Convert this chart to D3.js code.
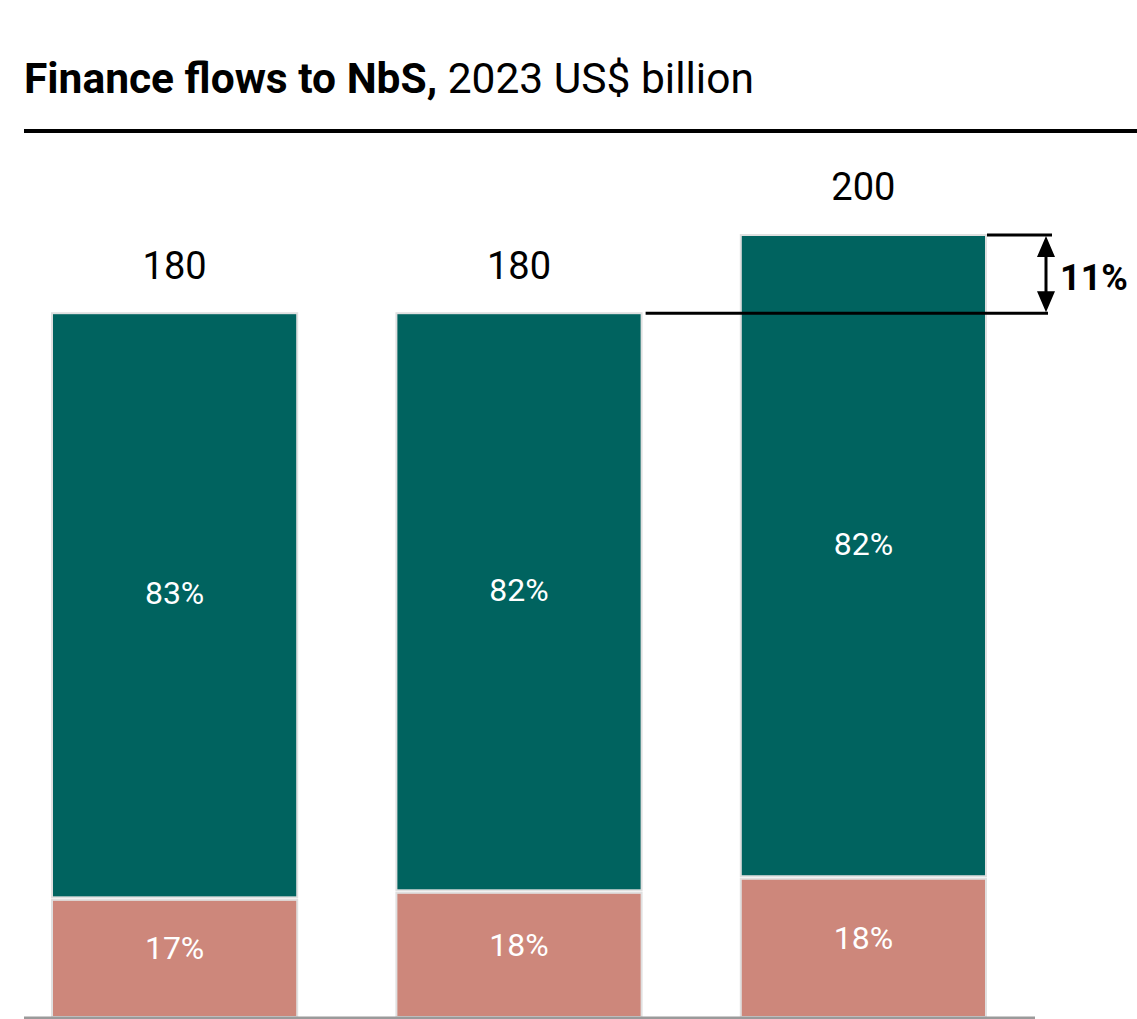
<!DOCTYPE html>
<html>
<head>
<meta charset="utf-8">
<script src="https://cdn.jsdelivr.net/npm/d3@7"></script>
<style>
  html, body { margin: 0; padding: 0; background: #fff; }
  svg { display: block; font-family: Roboto, "Noto Sans", sans-serif; }
</style>
</head>
<body>
<svg id="chart" width="1137" height="1019"></svg>
<script>
const CATEGORIES = ['A', 'B', 'C'];
const TOTALS = [180, 180, 200];
const TOTAL_LABELS = ['180', '180', '200'];
const SHARE_BOTTOM = [17, 18, 18];
const SHARE_TOP = [83, 82, 82];
const GROWTH_LABEL = '11%';

const SVG = d3.select('#chart');
const BASE = 1017;

const X = d3.scaleBand().domain(CATEGORIES).range([52, 986]).paddingInner(0.288).paddingOuter(0);
const Y = d3.scaleLinear().domain([0, 200]).range([BASE, 235]);

// title
const title = SVG.append('text').attr('x', 24).attr('y', 93).style('font-size', '42.5px');
title.append('tspan').style('font-weight', 700).text('Finance flows to NbS,');
title.append('tspan').style('font-weight', 400).text(' 2023 US$ billion');

SVG.append('line')
  .attr('x1', 24).attr('x2', 1137).attr('y1', 131).attr('y2', 131)
  .style('stroke', '#000').style('stroke-width', 4);

const rows = CATEGORIES.map((c, i) => ({
  c,
  total: TOTALS[i],
  label: TOTAL_LABELS[i],
  bottom: TOTALS[i] * SHARE_BOTTOM[i] / 100,
  pb: SHARE_BOTTOM[i],
  pt: SHARE_TOP[i],
}));

const g = SVG.append('g');

// bottom (pink) segments
g.selectAll('rect.bot')
  .data(rows)
  .join('rect')
  .attr('class', 'bot')
  .attr('x', (d) => X(d.c))
  .attr('width', X.bandwidth())
  .attr('y', (d) => Y(d.bottom) + 2.5)
  .attr('height', (d) => BASE - Y(d.bottom) - 2.5)
  .style('fill', '#cd877b')
  .style('stroke', '#e0e0e0')
  .style('stroke-width', 2);

// top (teal) segments
g.selectAll('rect.top')
  .data(rows)
  .join('rect')
  .attr('class', 'top')
  .attr('x', (d) => X(d.c))
  .attr('width', X.bandwidth())
  .attr('y', (d) => Y(d.total))
  .attr('height', (d) => Y(d.bottom) - Y(d.total))
  .style('fill', '#00635f')
  .style('stroke', '#e0e0e0')
  .style('stroke-width', 2);

// baseline
SVG.append('line')
  .attr('x1', 24).attr('x2', 1035).attr('y1', BASE + 1).attr('y2', BASE + 1)
  .style('stroke', '#9a9a9a').style('stroke-width', 3);

// segment labels
g.selectAll('text.pt')
  .data(rows)
  .join('text')
  .attr('x', (d) => X(d.c) + X.bandwidth() / 2)
  .attr('y', (d) => (Y(d.total) + Y(d.bottom)) / 2 - 12)
  .attr('dy', '0.35em')
  .style('text-anchor', 'middle')
  .style('fill', '#fff')
  .style('font-size', '32px')
  .text((d) => d.pt + '%');

g.selectAll('text.pb')
  .data(rows)
  .join('text')
  .attr('x', (d) => X(d.c) + X.bandwidth() / 2)
  .attr('y', (d) => (Y(d.bottom) + BASE) / 2 - 9)
  .attr('dy', '0.35em')
  .style('text-anchor', 'middle')
  .style('fill', '#fff')
  .style('font-size', '32px')
  .text((d) => d.pb + '%');

// totals
g.selectAll('text.tot')
  .data(rows)
  .join('text')
  .attr('x', (d) => X(d.c) + X.bandwidth() / 2)
  .attr('y', (d) => Y(d.total) - 48)
  .attr('dy', '0.35em')
  .style('text-anchor', 'middle')
  .style('fill', '#000')
  .style('font-size', '38px')
  .text((d) => d.label);

// growth annotation
const yLow = Y(TOTALS[1]);
const yHigh = Y(TOTALS[2]);
const ax = 1046;
const ann = SVG.append('g').style('stroke', '#000').style('stroke-width', 3);
ann.append('line').attr('x1', X(CATEGORIES[1]) + X.bandwidth() + 4).attr('x2', 1048).attr('y1', yLow).attr('y2', yLow);
ann.append('line').attr('x1', X(CATEGORIES[2]) + X.bandwidth() + 1).attr('x2', 1052).attr('y1', yHigh).attr('y2', yHigh);
ann.append('line').attr('x1', ax).attr('x2', ax).attr('y1', yHigh + 15).attr('y2', yLow - 15);
SVG.append('path')
  .attr('d', `M${ax},${yHigh + 1} L${ax - 9},${yHigh + 22} L${ax + 9},${yHigh + 22} Z M${ax},${yLow - 1} L${ax - 9},${yLow - 22} L${ax + 9},${yLow - 22} Z`)
  .style('fill', '#000');
SVG.append('text')
  .attr('x', 1060).attr('y', (yLow + yHigh) / 2 + 3)
  .attr('dy', '0.35em')
  .style('font-size', '36px').style('font-weight', 700)
  .text(GROWTH_LABEL);
</script>
</body>
</html>
